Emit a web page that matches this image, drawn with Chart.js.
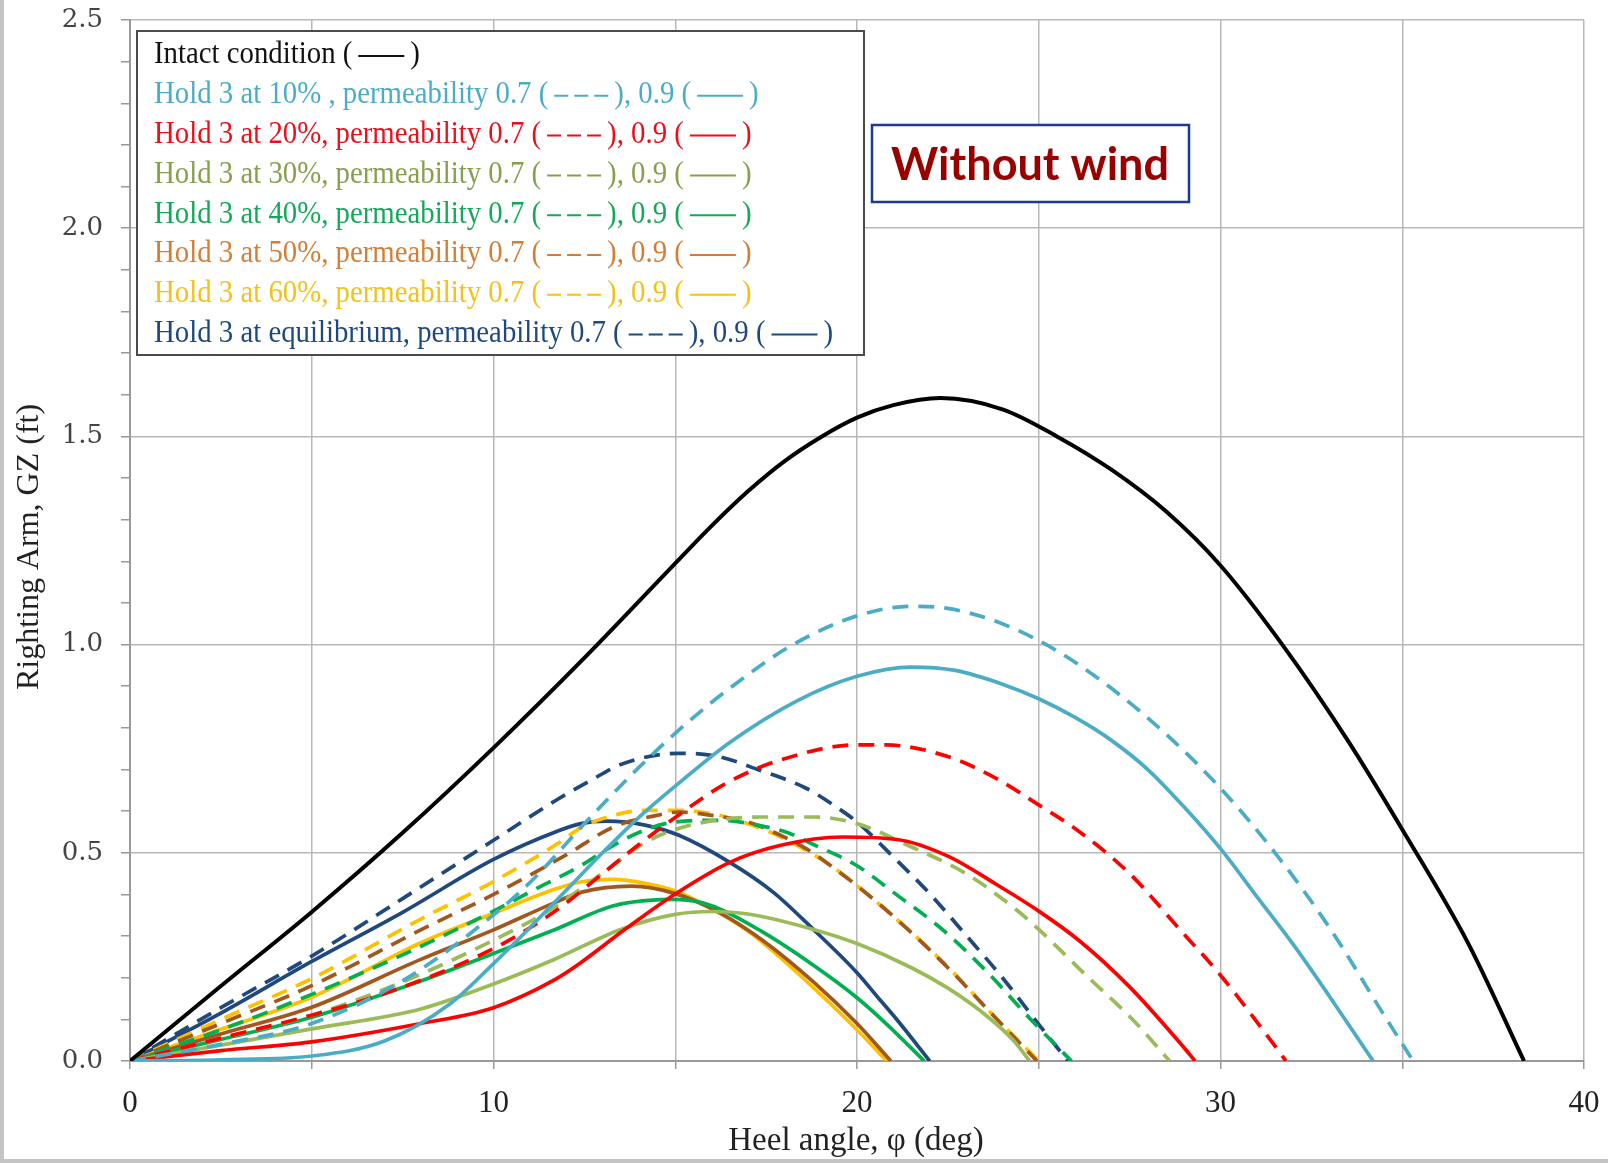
<!DOCTYPE html>
<html>
<head>
<meta charset="utf-8">
<script src="https://cdn.jsdelivr.net/npm/chart.js@4.4.1/dist/chart.umd.min.js"></script>
<style>
  html, body { margin: 0; padding: 0; background: #fff; }
  canvas { display: block; }
</style>
</head>
<body>
<canvas id="gz" width="1608" height="1163"></canvas>
<script>
// heel angle (deg) vs righting arm GZ (ft)
const intact   = [[0,0],[2.5,0.18],[5,0.358],[7.5,0.548],[10,0.752],[12.5,0.968],[15,1.195],[16,1.285],[17,1.368],[18,1.44],[19,1.498],[20,1.545],[21,1.575],[22.3,1.592],[24,1.565],[25.5,1.5],[27,1.42],[28.5,1.32],[30,1.19],[31.7,1.0],[33.5,0.77],[35,0.556],[36.8,0.285],[38.35,0]];
const hold10p7 = [[0,0],[2.5,0.04],[5,0.09],[7.6,0.198],[10,0.351],[11.1,0.437],[12.5,0.57],[14,0.705],[15.3,0.81],[16.6,0.902],[18.2,0.998],[20,1.069],[21.5,1.092],[22.5,1.087],[24,1.05],[25.5,0.985],[27,0.895],[28.5,0.785],[30,0.655],[31.5,0.5],[33,0.32],[34.5,0.11],[35.3,0]];
const hold10p9 = [[0,0],[2.5,0.003],[5,0.012],[7,0.048],[8.8,0.137],[10,0.234],[11,0.32],[12,0.41],[13,0.5],[14,0.585],[15,0.66],[16.5,0.765],[18.35,0.865],[20,0.924],[21.5,0.946],[22.7,0.938],[24,0.905],[25,0.87],[26,0.825],[27,0.77],[28,0.7],[29,0.61],[30,0.51],[31,0.395],[32,0.28],[33,0.155],[34.2,0]];
const hold20p7 = [[0,0],[2.5,0.055],[5,0.11],[7,0.162],[10,0.27],[11.7,0.36],[13,0.45],[14,0.52],[15,0.585],[16.4,0.667],[17.9,0.723],[20,0.759],[20.8,0.759],[22.5,0.731],[23.8,0.68],[25,0.615],[26.1,0.552],[27.5,0.45],[28.9,0.314],[30,0.206],[31.6,0.024],[31.8,0]];
const hold20p9 = [[0,0],[2.5,0.025],[5,0.046],[8,0.09],[10,0.128],[11.7,0.196],[12.4,0.236],[13.6,0.315],[15,0.401],[16.5,0.477],[17.9,0.518],[19.6,0.538],[21.1,0.532],[22.5,0.492],[23.8,0.426],[25,0.36],[26.1,0.29],[27.5,0.178],[28.9,0.042],[29.3,0]];
const hold30p7 = [[0,0],[2.5,0.055],[5,0.11],[7.5,0.19],[10,0.29],[11.5,0.36],[12.9,0.445],[14.2,0.526],[15.4,0.566],[17.4,0.586],[18.8,0.586],[20,0.57],[21.5,0.514],[23,0.45],[24.4,0.362],[25,0.316],[26.3,0.206],[27.6,0.098],[28.6,0]];
const hold30p9 = [[0,0],[2.5,0.038],[5,0.077],[8,0.125],[10,0.185],[11.7,0.245],[13.5,0.316],[15,0.352],[16,0.359],[17,0.353],[18.8,0.316],[20,0.282],[21.5,0.224],[22.5,0.175],[23.4,0.12],[24.3,0.05],[24.75,0]];
const hold40p7 = [[0,0],[2.5,0.075],[5,0.16],[7.5,0.255],[10,0.36],[11.2,0.415],[12.4,0.469],[13.3,0.518],[14.2,0.556],[15,0.574],[16.2,0.578],[17.3,0.566],[18.1,0.548],[18.8,0.52],[20,0.469],[21,0.405],[22.4,0.312],[23.6,0.212],[24.8,0.098],[25.9,0]];
const hold40p9 = [[0,0],[2.5,0.052],[5,0.105],[8,0.192],[10,0.258],[11.7,0.316],[13.3,0.373],[14.5,0.387],[15,0.388],[16,0.373],[17.4,0.31],[18.8,0.23],[20,0.152],[20.8,0.09],[21.85,0]];
const hold50p7 = [[0,0],[2.5,0.09],[5,0.181],[8,0.315],[10,0.4],[12,0.495],[13.3,0.562],[14.5,0.59],[15.1,0.598],[16,0.59],[17,0.574],[17.7,0.55],[18.6,0.51],[19.4,0.461],[20,0.421],[21.2,0.332],[22.5,0.224],[23.7,0.114],[24.95,0]];
const hold50p9 = [[0,0],[2.5,0.065],[5,0.129],[8,0.244],[10,0.315],[11.7,0.381],[12.4,0.405],[13.8,0.42],[15,0.402],[16.2,0.357],[17.4,0.29],[18.8,0.19],[20,0.09],[20.93,0]];
const hold60p7 = [[0,0],[2.5,0.1],[5,0.198],[8,0.341],[10,0.431],[11.8,0.524],[12.4,0.56],[13.3,0.59],[14.2,0.602],[15.1,0.602],[16,0.594],[17,0.57],[17.7,0.546],[18.6,0.506],[19.4,0.462],[20,0.421],[21.2,0.332],[22.5,0.226],[23.7,0.114],[25,0]];
const hold60p9 = [[0,0],[2.5,0.076],[5,0.153],[8,0.284],[10,0.355],[11.7,0.413],[12.4,0.43],[13.3,0.436],[14.2,0.426],[15,0.408],[16,0.366],[17,0.312],[18,0.24],[19,0.16],[20,0.075],[20.82,0]];
const holdEqp7 = [[0,0],[2.5,0.128],[5,0.252],[7.5,0.39],[10,0.53],[11.7,0.625],[12.6,0.67],[13.5,0.712],[15.1,0.739],[16.2,0.731],[17.3,0.699],[18.6,0.655],[19.5,0.606],[20,0.574],[21,0.49],[22,0.402],[23,0.302],[24,0.2],[25,0.088],[25.8,0]];
const holdEqp9 = [[0,0],[2.5,0.115],[5,0.239],[7.5,0.357],[10,0.484],[11.7,0.55],[12.4,0.57],[13.1,0.576],[14.2,0.566],[15.1,0.542],[16.5,0.477],[17.7,0.405],[18.8,0.316],[20,0.212],[20.6,0.15],[21.1,0.099],[22,0]];

const xTickLabels = [0, 10, 20, 30, 40];
const yTickLabels = ['0.0', '0.5', '1.0', '1.5', '2.0', '2.5'];

const holdNames = ['Hold 3 at 10% ,', 'Hold 3 at 20%,', 'Hold 3 at 30%,', 'Hold 3 at 40%,',
                   'Hold 3 at 50%,', 'Hold 3 at 60%,', 'Hold 3 at equilibrium,'];
const holdLineColors = ['#4bacc6', '#ff0000', '#9bbb59', '#00b050', '#a0581e', '#ffc000', '#1f497d'];
const holdTextColors = ['#4bacc6', '#e8101a', '#86a04e', '#16a85a', '#d27f35', '#f2c21a', '#1f497d'];
const holdP7 = [hold10p7, hold20p7, hold30p7, hold40p7, hold50p7, hold60p7, holdEqp7];
const holdP9 = [hold10p9, hold20p9, hold30p9, hold40p9, hold50p9, hold60p9, holdEqp9];

function mkSet(pts, color, dashed, w) {
  return {
    data: pts.map(p => ({ x: p[0], y: p[1] })),
    borderColor: color,
    borderWidth: w,
    borderDash: dashed ? [16, 10] : [],
    pointRadius: 0,
    fill: false,
    cubicInterpolationMode: 'monotone'
  };
}

const datasets = [mkSet(intact, '#000000', false, 4)];
for (let i = 0; i < holdNames.length; i++) {
  datasets.push(mkSet(holdP9[i], holdLineColors[i], false, 3.7));
  datasets.push(mkSet(holdP7[i], holdLineColors[i], true, 3.7));
}

const isMajor = v => Math.abs(v * 2 - Math.round(v * 2)) < 1e-6;
const SX = 0.9;
const legendFont = '32px "Liberation Serif"';

function drawRow(ctx, x, y, parts, color) {
  ctx.save();
  ctx.fillStyle = color;
  ctx.strokeStyle = color;
  ctx.font = legendFont;
  ctx.textBaseline = 'middle';
  let cx = x;
  parts.forEach(p => {
    if (p === 'dash' || p === 'solid') {
      const len = p === 'dash' ? 54 : 46;
      ctx.lineWidth = 2;
      ctx.setLineDash(p === 'dash' ? [14, 6] : []);
      ctx.beginPath();
      ctx.moveTo(cx + 6, y + 1);
      ctx.lineTo(cx + 6 + len, y + 1);
      ctx.stroke();
      ctx.setLineDash([]);
      cx += len + 12;
    } else {
      ctx.save();
      ctx.translate(cx, y);
      ctx.scale(SX, 1);
      ctx.fillText(p, 0, 0);
      ctx.restore();
      cx += ctx.measureText(p).width * SX;
    }
  });
  ctx.restore();
}

const decor = {
  id: 'decor',
  beforeDraw(chart) {
    const ctx = chart.ctx;
    ctx.save();
    ctx.fillStyle = '#fff';
    ctx.fillRect(0, 0, chart.width, chart.height);
    ctx.fillStyle = '#c4c4c4';
    ctx.fillRect(0, 0, 4, chart.height);
    ctx.fillRect(0, chart.height - 4, chart.width, 4);
    ctx.restore();
  },
  afterDraw(chart) {
    const ctx = chart.ctx;
    ctx.save();
    // legend box
    ctx.fillStyle = '#fff';
    ctx.fillRect(137, 31, 727, 324);
    ctx.strokeStyle = '#4a4a4a';
    ctx.lineWidth = 2;
    ctx.strokeRect(137, 31, 727, 324);
    drawRow(ctx, 154, 55, ['Intact condition (', 'solid', ')'], '#111');
    for (let i = 0; i < holdNames.length; i++) {
      drawRow(ctx, 154, 55 + (i + 1) * 39.8,
        [holdNames[i] + ' permeability 0.7 (', 'dash', '), 0.9 (', 'solid', ')'], holdTextColors[i]);
    }
    // "Without wind" box
    ctx.fillStyle = '#fff';
    ctx.fillRect(872, 125, 317, 77);
    ctx.strokeStyle = '#1f3a8a';
    ctx.lineWidth = 2.5;
    ctx.strokeRect(872, 125, 317, 77);
    ctx.fillStyle = '#990000';
    ctx.font = 'bold 45px Lato';
    ctx.textAlign = 'center';
    ctx.textBaseline = 'middle';
    ctx.fillText('Without wind', 1030, 165);
    // axis titles
    ctx.fillStyle = '#222';
    ctx.font = '33px "Liberation Serif"';
    ctx.fillText('Heel angle, \u03c6 (deg)', 856, 1141);
    ctx.translate(30, 547);
    ctx.rotate(-Math.PI / 2);
    ctx.font = '32px "Liberation Serif"';
    ctx.fillText('Righting Arm, GZ (ft)', 0, 0);
    ctx.restore();
  }
};

new Chart(document.getElementById('gz'), {
  type: 'line',
  data: { datasets },
  options: {
    responsive: false,
    animation: false,
    devicePixelRatio: 1,
    layout: { padding: { top: 20, right: 24, left: 0, bottom: 0 } },
    plugins: { legend: { display: false }, tooltip: { enabled: false } },
    scales: {
      x: {
        type: 'linear', min: 0, max: 40,
        ticks: {
          stepSize: 5, autoSkip: false, maxRotation: 0, padding: 16,
          callback: v => xTickLabels.includes(v) ? String(v) : '',
          font: { family: 'Liberation Serif', size: 31 }, color: '#222'
        },
        grid: { color: '#b8b8b8', lineWidth: 1.5, tickLength: 8, tickColor: '#999' },
        border: { color: '#999', width: 2 },
        afterFit: s => { s.height = 102; s.paddingLeft = 0; s.paddingRight = 0; }
      },
      y: {
        min: 0, max: 2.5,
        ticks: {
          stepSize: 0.1, autoSkip: false, padding: 18,
          callback: v => isMajor(v) ? yTickLabels[Math.round(v * 2)] : '',
          font: { family: 'DejaVu Serif', size: 26 }, color: '#444'
        },
        grid: {
          color: c => isMajor(c.tick.value) ? '#b8b8b8' : 'transparent',
          lineWidth: 1.5, tickLength: 9, tickColor: '#999'
        },
        border: { color: '#999', width: 2 },
        afterFit: s => { s.width = 130; s.paddingTop = 0; s.paddingBottom = 0; }
      }
    }
  },
  plugins: [decor]
});
</script>
</body>
</html>
